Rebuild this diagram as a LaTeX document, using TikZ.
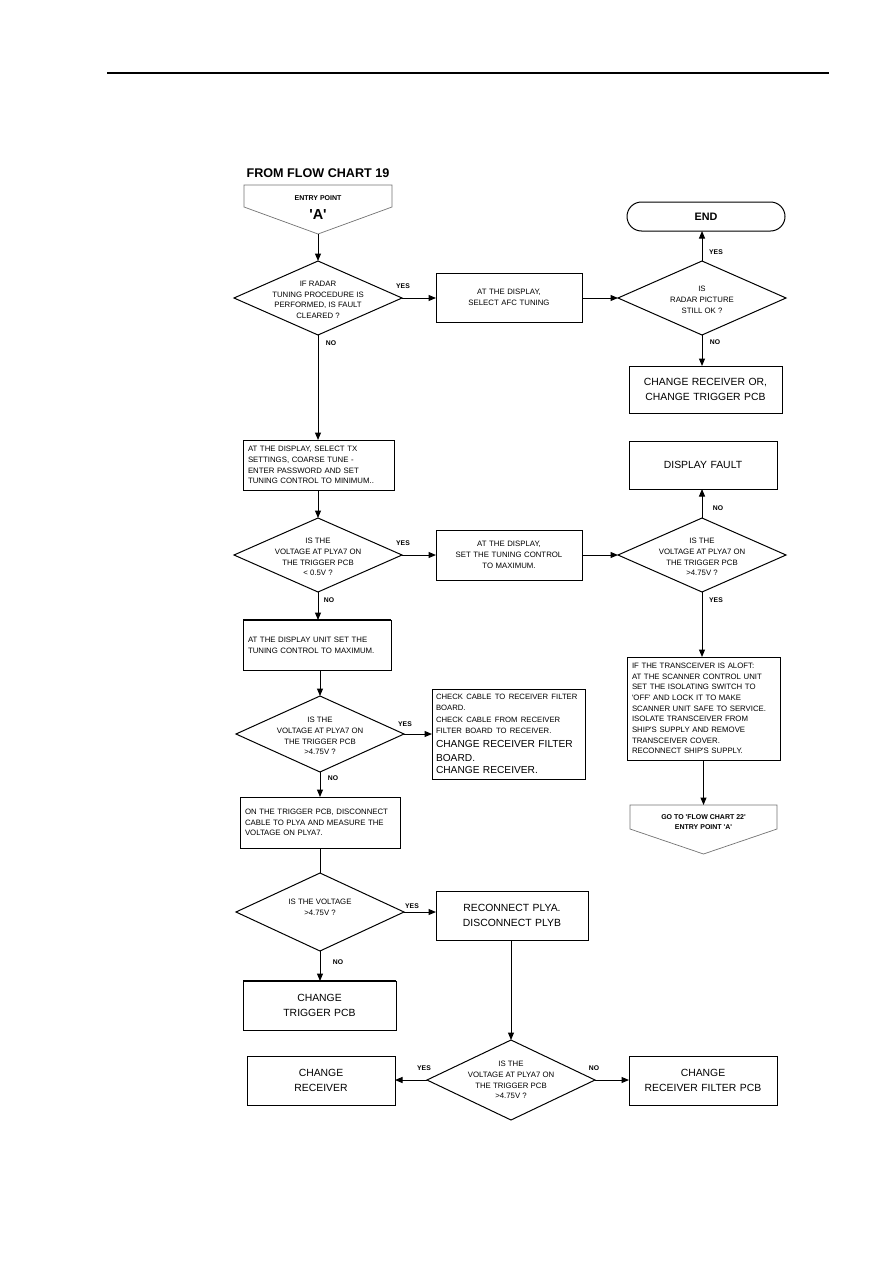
\documentclass[tikz,border=0pt]{standalone}
\usepackage{fontspec}
\setmainfont{Liberation Sans}
\usetikzlibrary{shapes.geometric,arrows.meta}
\newcommand\sq{\textquotesingle}
\begin{document}
\begin{tikzpicture}[x=1pt,y=-1pt,
  every node/.style={inner sep=0pt, outer sep=0pt},
  sm/.style={font=\fontsize{7.8}{10.7}\selectfont},
  lg/.style={font=\fontsize{10.4}{14.5}\selectfont},
  boxl/.style={draw, line width=1pt, rectangle, inner xsep=5pt, align=left},
  boxc/.style={draw, line width=1pt, rectangle, align=center},
  dia/.style={draw, diamond, line width=1pt, minimum width=168pt, minimum height=74pt},
  dtext/.style={sm, align=center},
  lab/.style={font=\bfseries\fontsize{6.8}{8}\selectfont},
  arr/.style={-{Triangle[length=7.5pt,width=6pt]}, line width=1pt},
  ln/.style={line width=1pt},
  pent/.style={draw=black!55, line width=0.7pt, fill=white}
]
\useasboundingbox (0,0) rectangle (893,1263);
\draw[line width=1.1pt] (107,73) -- (829,73);

% entry point
\node[font=\bfseries\fontsize{12.6}{14}\selectfont] (from) at (318,173) {FROM FLOW CHART 19};
\draw[pent] (244,185) -- (392,185) -- (392,207) -- (318,234) -- (244,207) -- cycle;
\coordinate (e1) at (318,234);
\node[font=\bfseries\fontsize{7}{8}\selectfont] (ep) at (318,198) {ENTRY POINT};
\node[font=\bfseries\fontsize{14.5}{16}\selectfont] (epa) at (318,215) {\sq A\sq};

% row 1
\node[dia] (d1) at (318,298) {};
\node[dtext] (t1) at (318,300) {IF RADAR\\TUNING PROCEDURE IS\\PERFORMED, IS FAULT\\CLEARED ?};
\node[boxc, sm, text width=146pt, minimum height=49pt] (b1) at (509,297.5) {AT THE DISPLAY,\\SELECT AFC TUNING};
\node[dia] (d2) at (702,298) {};
\node[dtext] (t2) at (702,300) {IS\\RADAR PICTURE\\STILL OK ?};
\node[draw, line width=1pt, rounded corners=14.5pt, minimum width=158pt, minimum height=29pt, font=\bfseries\fontsize{10.8}{12}\selectfont] (end) at (706,216.5) {END};
\node[boxc, lg, text width=153pt, minimum height=47pt] (b2) at (705.5,389.5) {CHANGE RECEIVER OR,\\CHANGE TRIGGER PCB};

\draw[arr] (e1) -- (d1.north);
\draw[arr] (d1.east) -- (b1.west |- d1.east);
\draw[arr] (b1.east |- d2.west) -- (d2.west);
\draw[arr] (d2.north) -- (d2.north |- end.south);
\draw[arr] (d2.south) -- (d2.south |- b2.north);
\node[lab] (y1) at (403,286) {YES};
\node[lab] (n1) at (331,343) {NO};
\node[lab] (y2) at (716,252) {YES};
\node[lab] (n2) at (715,342) {NO};

% row 2
\node[boxl, sm, text width=141pt, minimum height=50pt] (b3) at (318.5,465) {AT THE DISPLAY, SELECT TX\\SETTINGS, COARSE TUNE -\\ENTER PASSWORD AND SET\\TUNING CONTROL TO MINIMUM..};
\draw[arr] (d1.south) -- (d1.south |- b3.north);
\node[dia] (d3) at (318,555) {};
\node[dtext] (t3) at (318,557) {IS THE\\VOLTAGE AT PLYA7 ON\\THE TRIGGER PCB\\< 0.5V ?};
\draw[arr] (b3.south -| d3.north) -- (d3.north);
\node[boxc, sm, text width=146pt, minimum height=50pt] (b4) at (509,555) {AT THE DISPLAY,\\SET THE TUNING CONTROL\\TO MAXIMUM.};
\node[dia] (d4) at (702,555) {};
\node[dtext] (t4) at (702,557) {IS THE\\VOLTAGE AT PLYA7 ON\\THE TRIGGER PCB\\>4.75V ?};
\node[boxc, lg, text width=148pt, minimum height=48pt] (b5) at (703,465) {DISPLAY FAULT};
\draw[arr] (d3.east) -- (b4.west |- d3.east);
\draw[arr] (b4.east |- d4.west) -- (d4.west);
\draw[arr] (d4.north) -- (d4.north |- b5.south);
\node[lab] (y3) at (403,543) {YES};
\node[lab] (n3) at (329,600) {NO};
\node[lab] (n4) at (718,508) {NO};
\node[lab] (y4) at (716,600) {YES};

% right column lower
\node[boxl, sm, text width=143pt, minimum height=103pt] (b6) at (703.5,708.5) {IF THE TRANSCEIVER IS ALOFT:\\AT THE SCANNER CONTROL UNIT\\SET THE ISOLATING SWITCH TO\\\sq OFF\sq{} AND LOCK IT TO MAKE\\SCANNER UNIT SAFE TO SERVICE.\\ISOLATE TRANSCEIVER FROM\\SHIP\sq S SUPPLY AND REMOVE\\TRANSCEIVER COVER.\\RECONNECT SHIP\sq S SUPPLY.};
\draw[arr] (d4.south) -- (d4.south |- b6.north);
\draw[pent] (630,805) -- (777,805) -- (777,829) -- (703.5,854) -- (630,829) -- cycle;
\coordinate (x1) at (703.5,805);
\node[font=\bfseries\fontsize{7}{10.5}\selectfont, align=center] (xt) at (703.5,822) {GO TO \sq FLOW CHART 22\sq\\ENTRY POINT \sq A\sq};
\draw[arr] (b6.south -| x1) -- (x1);

% left column lower
\node[boxl, sm, text width=138pt, minimum height=50pt] (b7) at (317,645) {AT THE DISPLAY UNIT SET THE\\TUNING CONTROL TO MAXIMUM.};
\draw[line width=1.8pt] (b7.north west) -- (b7.north east);
\draw[arr] (d3.south) -- (d3.south |- b7.north);
\node[dia, minimum height=76pt] (d5) at (320,734) {};
\node[dtext] (t5) at (320,736) {IS THE\\VOLTAGE AT PLYA7 ON\\THE TRIGGER PCB\\>4.75V ?};
\draw[arr] (b7.south -| d5.north) -- (d5.north);
\node[boxl, inner xsep=4pt, text width=145pt, minimum height=90pt] (b8) at (508.5,734) {\fontsize{7.7}{11.3}\selectfont CHECK CABLE TO RECEIVER FILTER\\BOARD.\\CHECK CABLE FROM RECEIVER\\FILTER BOARD TO RECEIVER.\par\fontsize{10.2}{14.2}\selectfont CHANGE RECEIVER FILTER\\BOARD.\\CHANGE RECEIVER.};
\draw[arr] (d5.east) -- (b8.west |- d5.east);
\node[lab] (y5) at (405,724) {YES};
\node[lab] (n5) at (333,778) {NO};
\node[boxl, sm, text width=150pt, minimum height=51pt] (b9) at (320,822.5) {ON THE TRIGGER PCB, DISCONNECT\\CABLE TO PLYA AND MEASURE THE\\VOLTAGE ON PLYA7.};
\draw[arr] (d5.south) -- (d5.south |- b9.north);
\node[dia, minimum height=78pt] (d6) at (320,912) {};
\node[dtext] (t6) at (320,907) {IS THE VOLTAGE\\>4.75V ?};
\draw[ln] (b9.south -| d6.north) -- (d6.north);
\node[boxc, lg, text width=152pt, minimum height=49pt] (b10) at (512,915.5) {RECONNECT PLYA.\\DISCONNECT PLYB};
\draw[arr] (d6.east) -- (d6.east -| b10.west);
\node[lab] (y6) at (412,906) {YES};
\node[boxc, lg, text width=153pt, minimum height=49pt] (b11) at (319.5,1005.5) {CHANGE\\TRIGGER PCB};
\draw[line width=1.8pt] (b11.north west) -- (b11.north east);
\draw[arr] (d6.south) -- (d6.south |- b11.north);
\node[lab] (n6) at (338,962) {NO};

% bottom
\node[dia, minimum height=80pt] (d7) at (511,1080) {};
\node[dtext] (t7) at (511,1080) {IS THE\\VOLTAGE AT PLYA7 ON\\THE TRIGGER PCB\\>4.75V ?};
\draw[arr] (b10.south -| d7.north) -- (d7.north);
\node[boxc, lg, text width=148pt, minimum height=49pt] (b12) at (321,1080.5) {CHANGE\\RECEIVER};
\node[boxc, lg, text width=148pt, minimum height=49pt] (b13) at (703,1080.5) {CHANGE\\RECEIVER FILTER PCB};
\draw[arr] (d7.west) -- (d7.west -| b12.east);
\draw[arr] (d7.east) -- (d7.east -| b13.west);
\node[lab] (y7) at (424,1068) {YES};
\node[lab] (n7) at (594,1068) {NO};
\end{tikzpicture}
\end{document}
